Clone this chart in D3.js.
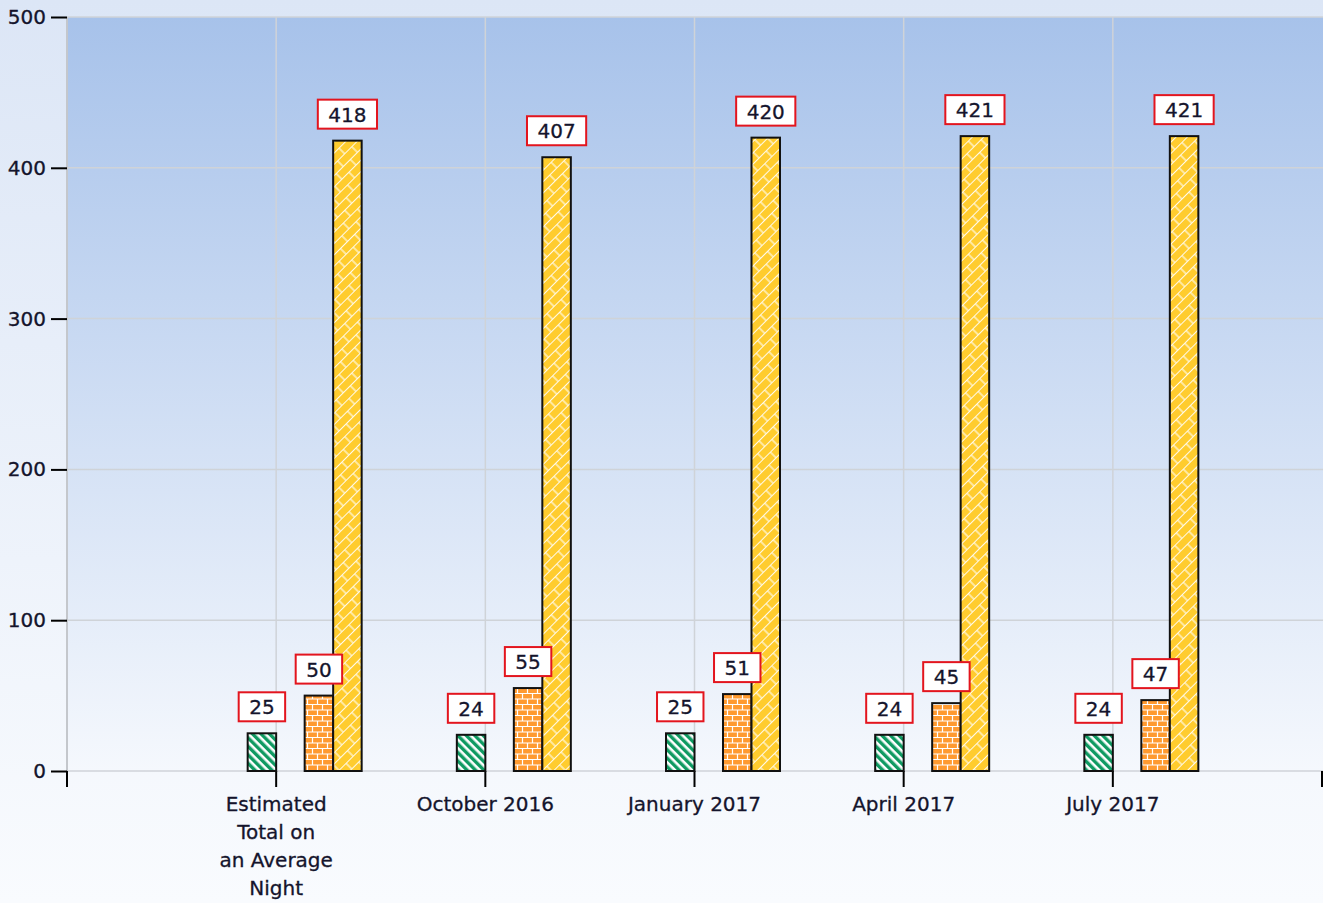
<!DOCTYPE html>
<html lang="en">
<head>
    <meta charset="UTF-8">
    <title>Average Night Counts</title>
    <script src="https://cdn.jsdelivr.net/npm/d3@7"></script>
    <style>
        html, body { margin: 0; padding: 0; }
        body { width: 1323px; height: 903px; overflow: hidden; }
    </style>
</head>
<body>

<script>

    // Data ////////////////////////////////////
    var categories = ['Estimated Total on an Average Night', 'October 2016', 'January 2017', 'April 2017', 'July 2017'];
    var categoryLines = [['Estimated', 'Total on', 'an Average', 'Night'], ['October 2016'], ['January 2017'], ['April 2017'], ['July 2017']];
    var greenValues = [25, 24, 25, 24, 24];
    var orangeValues = [50, 55, 51, 45, 47];
    var yellowValues = [418, 407, 420, 421, 421];
    var yTicks = [0, 100, 200, 300, 400, 500];

    // the source chart reserves 6 slots per category, only 3 are filled
    var seriesList = [
        {slot: 2, values: greenValues, fill: 'url(#pat-green)'},
        {slot: 4, values: orangeValues, fill: 'url(#pat-orange)'},
        {slot: 5, values: yellowValues, fill: 'url(#pat-yellow)'}
    ];

    // Size ////////////////////////////////////
    var width = 1323;
    var height = 903;
    var plot = {left: 67, right: 1322, top: 17, bottom: 771};
    var font = '"DejaVu Sans", Verdana, sans-serif';
    var textColor = '#14142c';

    var svg = d3.select('body').append('svg')
            .attr('width', width).attr('height', height)
            .style('display', 'block');

    var defs = svg.append('defs');

    // Gradients
    var pageGrad = defs.append('linearGradient').attr('id', 'page-bg')
            .attr('x1', 0).attr('y1', 0).attr('x2', 0).attr('y2', 1);
    pageGrad.append('stop').attr('offset', '0%').attr('stop-color', '#dce6f6');
    pageGrad.append('stop').attr('offset', '100%').attr('stop-color', '#f9fbfe');

    var plotGrad = defs.append('linearGradient').attr('id', 'plot-bg')
            .attr('x1', 0).attr('y1', 0).attr('x2', 0).attr('y2', 1);
    plotGrad.append('stop').attr('offset', '0%').attr('stop-color', '#a7c2ea');
    plotGrad.append('stop').attr('offset', '100%').attr('stop-color', '#f5f8fd');

    // Patterns
    var pg = defs.append('pattern').attr('id', 'pat-green')
            .attr('patternUnits', 'userSpaceOnUse')
            .attr('width', 6).attr('height', 6)
            .attr('patternTransform', 'rotate(45)');
    pg.append('rect').attr('width', 6).attr('height', 6).attr('fill', '#0f9a62');
    pg.append('rect').attr('y', 0).attr('width', 6).attr('height', 2.6).attr('fill', '#ffffff');

    var po = defs.append('pattern').attr('id', 'pat-orange')
            .attr('patternUnits', 'userSpaceOnUse')
            .attr('width', 10).attr('height', 11);
    po.append('rect').attr('width', 10).attr('height', 11).attr('fill', '#ff9a30');
    po.append('path')
            .attr('d', 'M0,0.5H10M0,6H10M2.5,0V5.5M7.5,5.5V11')
            .attr('stroke', '#ffffff').attr('stroke-width', 1.2).attr('fill', 'none');

    var py = defs.append('pattern').attr('id', 'pat-yellow')
            .attr('patternUnits', 'userSpaceOnUse')
            .attr('width', 20).attr('height', 16)
            .attr('patternTransform', 'rotate(-45)');
    py.append('rect').attr('width', 20).attr('height', 16).attr('fill', '#ffcc2e');
    py.append('path')
            .attr('d', 'M0,0.5H20M0,8.5H20M5,0V8M15,8V16')
            .attr('stroke', '#ffffff').attr('stroke-width', 1.2).attr('stroke-opacity', 0.9).attr('fill', 'none');

    // Scales ////////////////////////////////////
    var x = d3.scalePoint().domain(categories).range([plot.left, plot.right]).padding(1);
    var xSub = d3.scaleBand().domain(d3.range(6)).range([-85.5, 85.5]);
    var y = d3.scaleLinear().domain([0, 500]).range([plot.bottom, plot.top]);

    // Backgrounds
    svg.append('rect').attr('width', width).attr('height', height).attr('fill', 'url(#page-bg)');
    svg.append('rect')
            .attr('x', plot.left).attr('y', plot.top)
            .attr('width', plot.right - plot.left + 1).attr('height', plot.bottom - plot.top)
            .attr('fill', 'url(#plot-bg)');

    // Grid
    var grid = svg.append('g').attr('class', 'grid');
    grid.selectAll('line.hgrid').data(yTicks).enter().append('line')
            .attr('class', 'hgrid')
            .attr('x1', plot.left).attr('x2', plot.right + 1)
            .attr('y1', function (d) { return y(d); })
            .attr('y2', function (d) { return y(d); })
            .attr('stroke', '#cfd3d8').attr('stroke-width', 1.5);
    grid.selectAll('line.vgrid').data(categories).enter().append('line')
            .attr('class', 'vgrid')
            .attr('x1', function (d) { return x(d); })
            .attr('x2', function (d) { return x(d); })
            .attr('y1', plot.top).attr('y2', plot.bottom)
            .attr('stroke', '#cfd3d8').attr('stroke-width', 1.5);
    grid.append('line')
            .attr('x1', plot.left).attr('x2', plot.left)
            .attr('y1', plot.top).attr('y2', plot.bottom)
            .attr('stroke', '#c4c7cc').attr('stroke-width', 2);

    // Y axis ticks + labels
    var yAxis = d3.axisLeft(y).tickValues(yTicks).tickSize(16).tickPadding(5);
    var yG = svg.append('g').attr('transform', 'translate(' + plot.left + ',0)').call(yAxis);
    yG.select('.domain').remove();
    yG.selectAll('.tick line').attr('stroke', '#000').attr('stroke-width', 2);
    yG.selectAll('.tick text')
            .attr('fill', textColor).attr('stroke', textColor).attr('stroke-width', 0.3)
            .style('font-family', font).style('font-size', '20px');

    // X axis ticks (category ticks plus both ends)
    var xTickPos = [plot.left].concat(categories.map(function (c) { return x(c); }), [plot.right]);
    svg.append('g').selectAll('line').data(xTickPos).enter().append('line')
            .attr('x1', function (d) { return d; })
            .attr('x2', function (d) { return d; })
            .attr('y1', plot.bottom).attr('y2', plot.bottom + 16)
            .attr('stroke', '#000').attr('stroke-width', 2);

    // X labels
    var xl = svg.append('g').selectAll('text').data(categories).enter().append('text')
            .attr('text-anchor', 'middle')
            .attr('fill', textColor).attr('stroke', textColor).attr('stroke-width', 0.3)
            .style('font-family', font).style('font-size', '20px');
    xl.each(function (d, i) {
        var t = d3.select(this);
        categoryLines[i].forEach(function (line, j) {
            t.append('tspan').attr('x', x(d)).attr('y', 811 + j * 28).text(line);
        });
    });

    // Bars (all series first, labels drawn afterwards so they sit on top)
    var barLayer = svg.append('g').attr('class', 'bars');
    var labelLayer = svg.append('g').attr('class', 'labels');

    seriesList.forEach(function (s) {
        barLayer.append('g').selectAll('rect').data(s.values).enter().append('rect')
                .attr('x', function (d, i) { return x(categories[i]) + xSub(s.slot); })
                .attr('y', function (d) { return y(d); })
                .attr('width', xSub.bandwidth())
                .attr('height', function (d) { return y(0) - y(d); })
                .attr('fill', s.fill)
                .attr('stroke', '#111').attr('stroke-width', 2);

        // value labels
        var lab = labelLayer.append('g').selectAll('g.lab').data(s.values).enter().append('g').attr('class', 'lab')
                .attr('transform', function (d, i) {
                    var cx = x(categories[i]) + xSub(s.slot) + xSub.bandwidth() / 2;
                    return 'translate(' + cx + ',' + (y(d) - 12) + ')';
                });
        lab.each(function (d) {
            var gg = d3.select(this);
            var txt = gg.append('text')
                    .attr('text-anchor', 'middle').attr('y', -7)
                    .attr('fill', textColor).attr('stroke', textColor).attr('stroke-width', 0.3)
                    .style('font-family', font).style('font-size', '20px')
                    .text(d);
            var w = txt.node().getComputedTextLength() + 21;
            gg.insert('rect', 'text')
                    .attr('x', -w / 2).attr('y', -29)
                    .attr('width', w).attr('height', 29)
                    .attr('fill', '#fff').attr('stroke', '#e3151e').attr('stroke-width', 2);
        });
    });

</script>

</body>
</html>
